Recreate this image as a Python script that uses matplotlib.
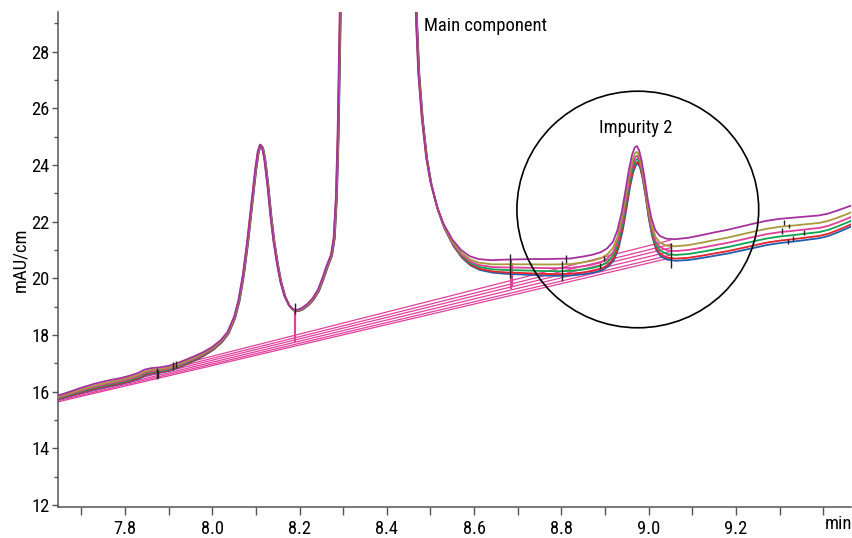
# -*- coding: utf-8 -*-
import os
import numpy as np
import matplotlib
matplotlib.use('Agg')
import matplotlib.pyplot as plt
import matplotlib.font_manager as fm
from matplotlib.patches import Ellipse
from matplotlib.ticker import MultipleLocator


# %% data ----------------------------------------------------------------------

# lowest (blue) trace
t_min = [7.646, 7.67, 7.70, 7.73, 7.76, 7.79, 7.81, 7.83, 7.845, 7.86,
         7.88, 7.90, 7.92, 7.94, 7.96, 7.98, 8.00, 8.02, 8.035, 8.05,
         8.06, 8.07, 8.08, 8.09, 8.098, 8.104, 8.109, 8.114, 8.119, 8.126,
         8.133, 8.14, 8.148, 8.156, 8.165, 8.175, 8.185, 8.195, 8.205, 8.218,
         8.23, 8.242, 8.252, 8.262, 8.272, 8.278, 8.283, 8.287, 8.291, 8.296,
         8.32, 8.44, 8.462, 8.467, 8.472, 8.48, 8.49, 8.50, 8.515, 8.53,
         8.55, 8.57, 8.59, 8.61, 8.64, 8.67, 8.70, 8.73, 8.76, 8.79,
         8.82, 8.85, 8.87, 8.89, 8.905, 8.918, 8.928, 8.938, 8.947, 8.955,
         8.962, 8.968, 8.973, 8.978, 8.984, 8.991, 8.998, 9.006, 9.015, 9.025,
         9.04, 9.06, 9.09, 9.12, 9.15, 9.18, 9.21, 9.24, 9.27, 9.30,
         9.33, 9.36, 9.39, 9.41, 9.43, 9.45, 9.464]

y_blue = [15.74, 15.84, 15.97, 16.09, 16.19, 16.28, 16.36, 16.46, 16.58, 16.64,
          16.68, 16.74, 16.85, 16.98, 17.12, 17.28, 17.48, 17.75, 18.05, 18.6,
          19.2, 20.1, 21.3, 22.7, 23.8, 24.45, 24.7, 24.6, 24.2, 23.3,
          22.2, 21.3, 20.5, 19.85, 19.35, 19.02, 18.86, 18.84, 18.9, 19.05,
          19.25, 19.55, 19.95, 20.4, 20.8, 21.4, 22.8, 25.0, 28.5, 33.0,
          45.0, 45.0, 32.0, 29.0, 27.2, 25.6, 24.2, 23.3, 22.4, 21.75,
          21.15, 20.72, 20.45, 20.3, 20.2, 20.16, 20.14, 20.12, 20.1, 20.09,
          20.1, 20.15, 20.2, 20.28, 20.42, 20.65, 21.05, 21.7, 22.5, 23.25,
          23.75, 24.0, 24.05, 23.9, 23.5, 22.85, 22.1, 21.45, 21.0, 20.78,
          20.66, 20.62, 20.65, 20.72, 20.8, 20.88, 20.98, 21.08, 21.18, 21.25,
          21.3, 21.36, 21.42, 21.5, 21.62, 21.75, 21.85]

# gap between lowest and highest trace at the same times
spread = [0.12, 0.14, 0.17, 0.19, 0.20, 0.20, 0.20, 0.20, 0.20, 0.19,
          0.18, 0.17, 0.16, 0.15, 0.14, 0.12, 0.10, 0.08, 0.06, 0.05,
          0.04, 0.03, 0.02, 0.02, 0.02, 0.02, 0.02, 0.02, 0.02, 0.02,
          0.02, 0.02, 0.03, 0.03, 0.04, 0.05, 0.05, 0.05, 0.05, 0.05,
          0.05, 0.05, 0.05, 0.05, 0.04, 0.03, 0.02, 0.01, 0.0, 0.0,
          0.0, 0.0, 0.0, 0.02, 0.04, 0.06, 0.08, 0.10, 0.13, 0.17,
          0.22, 0.28, 0.33, 0.38, 0.44, 0.50, 0.53, 0.56, 0.58, 0.60,
          0.60, 0.62, 0.63, 0.64, 0.64, 0.64, 0.63, 0.62, 0.62, 0.62,
          0.62, 0.62, 0.62, 0.62, 0.63, 0.64, 0.66, 0.68, 0.70, 0.72,
          0.74, 0.76, 0.78, 0.80, 0.82, 0.83, 0.84, 0.85, 0.85, 0.85,
          0.84, 0.82, 0.80, 0.78, 0.76, 0.74, 0.72]

trace_colors = ['#1f5fb0', '#e6222c', '#12a352', '#de3f98', '#a89a3c', '#a7309f']
trace_frac = [0.0, 0.10, 0.27, 0.45, 0.67, 1.0]
trace_shift = [0.0025, 0.002, 0.0015, 0.001, 0.0005, 0.0]

# integration baselines
base_x = [7.646, 9.05]
base_start_y = [15.64, 15.68, 15.72, 15.77, 15.82, 15.87]
base_end_y = [20.72, 20.82, 20.95, 21.08, 21.20, 21.35]

# drop lines (pink) and integration event marks (black)
drop_x = [8.189, 8.190, 8.684, 8.686]
drop_lo = [17.75, 17.85, 19.62, 19.70]
drop_hi = [18.85, 18.80, 20.65, 20.55]

evt_x = [7.873, 7.876, 7.910, 7.917, 8.189, 8.682, 8.801, 8.810,
         8.888, 8.897, 9.051, 9.305, 9.310, 9.319, 9.321, 9.330, 9.355]
evt_lo = [16.43, 16.48, 16.75, 16.82, 18.74, 20.02, 19.91, 20.55,
          20.34, 20.62, 20.37, 21.58, 21.89, 21.22, 21.76, 21.33, 21.54]
evt_hi = [16.82, 16.78, 17.04, 17.10, 19.13, 20.87, 20.62, 20.83,
          20.55, 20.80, 21.26, 21.76, 22.07, 21.40, 21.93, 21.50, 21.72]

x_ticks = [7.8, 8.0, 8.2, 8.4, 8.6, 8.8, 9.0, 9.2, 9.4]
x_tick_labels = ['7.8', '8.0', '8.2', '8.4', '8.6', '8.8', '9.0', '9.2', '']
y_ticks = [12, 14, 16, 18, 20, 22, 24, 26, 28]


# %% font ----------------------------------------------------------------------

font_keys = ['RobotoCondensed-Regular', 'LiberationSansNarrow-Regular',
             'DejaVuSansCondensed.ttf', 'OpenSans_Condensed-Regular']
fnt = None
for key in font_keys:
    hits = [f for f in fm.fontManager.ttflist if key in os.path.basename(f.fname)]
    if hits:
        fnt = hits[0]
        break

if fnt is not None:
    plt.rcParams['font.family'] = [fnt.name]
    plt.rcParams['font.stretch'] = fnt.stretch
    fs = 13.3
else:
    plt.rcParams['font.family'] = ['DejaVu Sans']
    fs = 11.0


# %% figure --------------------------------------------------------------------

fig = plt.figure(figsize=(8.52, 5.38), dpi=100)
ax = fig.add_axes([58/852, 1 - 507/538, 793/852, 495/538])

t = np.array(t_min)
yb = np.array(y_blue)
sp = np.array(spread)

for y0, y1 in zip(base_start_y, base_end_y):
    ax.plot(base_x, [y0, y1], color='#e0409c', lw=0.9, zorder=2)

ax.vlines(drop_x, drop_lo, drop_hi, color='#e0409c', lw=1.5, zorder=2)

for color, frac, dx in zip(trace_colors, trace_frac, trace_shift):
    ax.plot(t + dx, yb + frac*sp, color=color, lw=1.3, zorder=3,
            solid_joinstyle='round')

ax.vlines(evt_x, evt_lo, evt_hi, color='#222222', lw=1.0, zorder=4)

#------------------
ax.add_patch(Ellipse((8.975, 22.43), 0.554, 8.35, fill=False,
                     ec='black', lw=1.2, zorder=5))

ax.text(8.486, 28.9, 'Main component', fontsize=fs, ha='left', va='center')
ax.text(8.971, 25.3, 'Impurity 2', fontsize=fs, ha='center', va='center')

#------------------
ax.set_xlim(7.6465, 9.4635)
ax.set_ylim(11.93, 29.40)

ax.set_xticks(x_ticks)
ax.set_xticklabels(x_tick_labels)
ax.xaxis.set_minor_locator(MultipleLocator(0.1))
ax.set_yticks(y_ticks)
ax.yaxis.set_minor_locator(MultipleLocator(1))

for s in ['top', 'right']:
    ax.spines[s].set_visible(False)
for s in ['left', 'bottom']:
    ax.spines[s].set_color('#555555')
    ax.spines[s].set_linewidth(1.1)

ax.tick_params(axis='x', which='both', direction='out', length=6, width=1.0,
               color='#555555', pad=3, labelsize=fs)
ax.tick_params(axis='y', which='major', direction='out', length=4, width=1.0,
               color='#555555', pad=2, labelsize=fs)
ax.tick_params(axis='y', which='minor', direction='out', length=3, width=1.0,
               color='#555555')

ax.set_ylabel('mAU/cm', fontsize=fs)
ax.yaxis.set_label_coords(-0.036, 0.5)
ax.text(0.9836, -0.034, 'min', transform=ax.transAxes, fontsize=fs,
        ha='center', va='center')

plt.savefig('out.png', dpi=100)
